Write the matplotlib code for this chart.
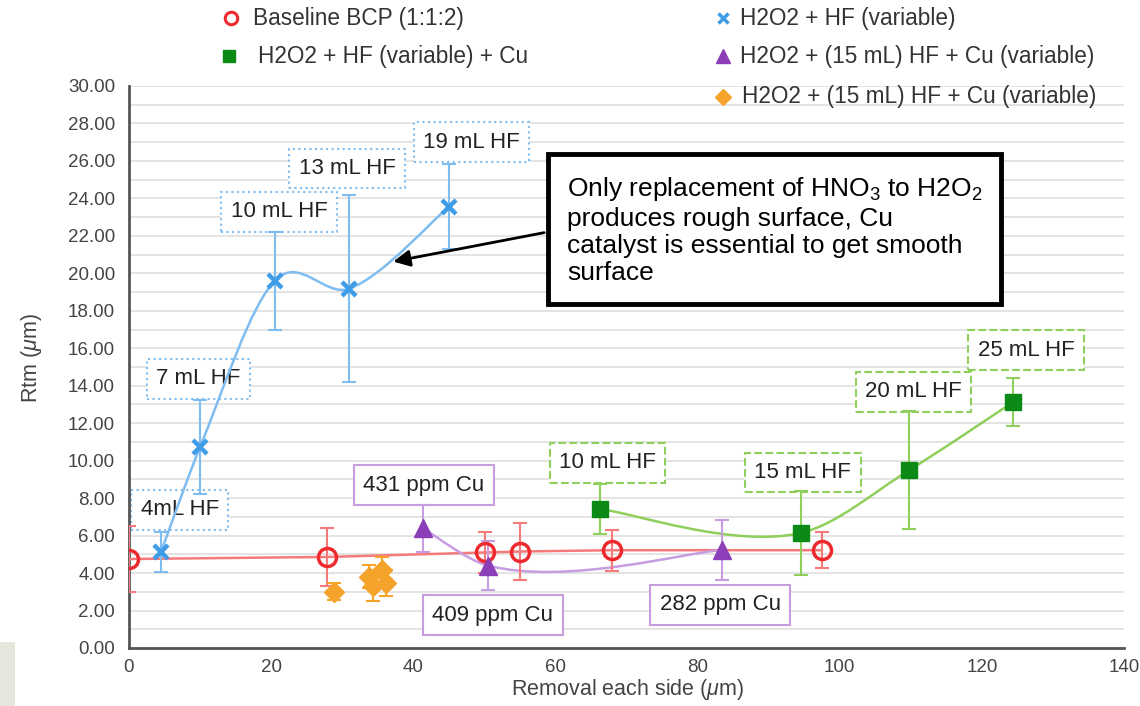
import numpy as np
import matplotlib
matplotlib.use('Agg')
import matplotlib.pyplot as plt
from matplotlib.path import Path
from matplotlib.patches import PathPatch, Rectangle
from matplotlib.lines import Line2D

plt.rcParams['font.family'] = ['Liberation Sans', 'DejaVu Sans']
plt.rcParams['mathtext.fontset'] = 'custom'
plt.rcParams['mathtext.rm'] = 'Liberation Sans'
plt.rcParams['mathtext.it'] = 'Liberation Sans:italic'

# baseline BCP (1:1:2)
bcp_x = [0, 27.9, 50.1, 55.0, 67.9, 97.5]
bcp_y = [4.75, 4.86, 5.10, 5.15, 5.22, 5.22]
bcp_err = [1.75, 1.55, 1.10, 1.50, 1.10, 0.95]

# H2O2 + HF (variable)
hf_x = [4.5, 10.0, 20.5, 31.0, 45.0]
hf_y = [5.13, 10.73, 19.60, 19.18, 23.56]
hf_err = [1.07, 2.50, 2.60, 5.00, 2.27]
hf_labels = ['4mL HF', '7 mL HF', '10 mL HF', '13 mL HF', '19 mL HF']
hf_label_pos = [(7.15, 7.37), (9.8, 14.36), (21.1, 23.28), (30.7, 25.6), (48.2, 27.0)]

# H2O2 + HF (variable) + Cu
cu_x = [66.3, 94.5, 109.8, 124.4]
cu_y = [7.42, 6.14, 9.50, 13.13]
cu_err = [1.35, 2.25, 3.15, 1.30]
cu_labels = ['10 mL HF', '15 mL HF', '20 mL HF', '25 mL HF']
cu_label_pos = [(67.3, 9.88), (94.8, 9.37), (110.4, 13.67), (126.2, 15.9)]

# H2O2 + (15 mL) HF + Cu (variable)
ppm_x = [41.4, 50.5, 83.5]
ppm_y = [6.39, 4.40, 5.23]
ppm_err = [1.25, 1.30, 1.60]
ppm_labels = ['431 ppm Cu', '409 ppm Cu', '282 ppm Cu']
ppm_label_pos = [(41.5, 8.7), (51.2, 1.76), (83.2, 2.3)]

# second H2O2 + (15 mL) HF + Cu (variable) set
or_x = [28.9, 33.8, 34.4, 35.6, 36.1]
or_y = [3.00, 3.80, 3.30, 4.15, 3.45]
or_err = [0.45, 0.62, 0.80, 0.72, 0.70]

RED, RED_L = '#ee2a2e', '#f77a7a'
BLUE, BLUE_L = '#3f9de8', '#7fbcef'
GREEN, GREEN_L = '#0c8a16', '#8fcf5c'
PURPLE, PURPLE_L = '#8c3db8', '#c79ce0'
ORANGE = '#f5a32a'


def smooth_path(xs, ys):
    # smoothed line as cubic bezier segments through the points
    x = np.asarray(xs, float)
    y = np.asarray(ys, float)
    n = len(x)
    h = np.diff(x)
    s = np.diff(y) / h
    m = np.zeros(n)
    for i in range(1, n - 1):
        cr = (y[i + 1] - y[i - 1]) / (x[i + 1] - x[i - 1])
        bessel = (h[i] * s[i - 1] + h[i - 1] * s[i]) / (h[i - 1] + h[i])
        m[i] = 0.5 * (cr + bessel)
    verts = [(x[0], y[0])]
    codes = [Path.MOVETO]
    for i in range(n - 1):
        if i == 0:
            c1 = (x[0] + h[0] / 6, y[0] + (y[1] - y[0]) / 6)
        else:
            c1 = (x[i] + h[i] / 3, y[i] + m[i] * h[i] / 3)
        if i == n - 2:
            c2 = (x[-1] - h[-1] / 6, y[-1] - (y[-1] - y[-2]) / 6)
        else:
            c2 = (x[i + 1] - h[i] / 3, y[i + 1] - m[i + 1] * h[i] / 3)
        verts += [c1, c2, (x[i + 1], y[i + 1])]
        codes += [Path.CURVE4] * 3
    return Path(verts, codes)


W, H = 1140, 706
fig = plt.figure(figsize=(W / 100, H / 100), dpi=100)
fig.patch.set_facecolor('white')
ax = fig.add_axes([129 / W, 58 / H, (1124 - 129) / W, (648 - 86) / H])

def fx(px):
    return px / W

def fy(py):
    return 1 - py / H

ax.set_xlim(0, 140)
ax.set_ylim(0, 30)
ax.set_xticks(np.arange(0, 141, 20))
ax.set_yticks(np.arange(0, 31, 2))
ax.set_yticks(np.arange(0, 31, 1), minor=True)
ax.yaxis.set_major_formatter(matplotlib.ticker.FormatStrFormatter('%.2f'))
ax.tick_params(axis='both', which='both', length=0, labelsize=13.5, labelcolor='#444444')
ax.tick_params(axis='x', pad=8)
ax.tick_params(axis='y', pad=10)
ax.grid(axis='y', which='both', color='#e4e4e4', lw=1.4, zorder=0)
for s in ['top', 'right']:
    ax.spines[s].set_visible(False)
for s in ['left', 'bottom']:
    ax.spines[s].set_color('#555555')
    ax.spines[s].set_linewidth(2)
ax.set_axisbelow(True)

# series lines
ax.plot(bcp_x, bcp_y, color=RED_L, lw=1.8, zorder=3)
ax.add_patch(PathPatch(smooth_path(hf_x, hf_y), fill=False, ec=BLUE_L, lw=1.8, zorder=3))
ax.add_patch(PathPatch(smooth_path(cu_x, cu_y), fill=False, ec=GREEN_L, lw=1.8, zorder=3))
ax.add_patch(PathPatch(smooth_path(ppm_x, ppm_y), fill=False, ec=PURPLE_L, lw=1.8, zorder=3))

# error bars
ebk = dict(fmt='none', elinewidth=1.5, capsize=5, capthick=1.5, zorder=4)
ax.errorbar(bcp_x, bcp_y, yerr=bcp_err, ecolor=RED_L, **ebk)
ax.errorbar(hf_x, hf_y, yerr=hf_err, ecolor=BLUE_L, **ebk)
ax.errorbar(cu_x, cu_y, yerr=cu_err, ecolor=GREEN_L, **ebk)
ax.errorbar(ppm_x, ppm_y, yerr=ppm_err, ecolor=PURPLE_L, **ebk)
ax.errorbar(or_x, or_y, yerr=or_err, ecolor=ORANGE, **ebk)

# markers
ax.plot(bcp_x, bcp_y, 'o', ms=13, mfc='none', mec=RED, mew=2.5, zorder=5)
ax.plot(hf_x, hf_y, 'x', ms=10, mec=BLUE, mew=3.2, zorder=5)
ax.plot(cu_x, cu_y, 's', ms=12, mfc=GREEN, mec=GREEN, zorder=5)
ax.plot(ppm_x, ppm_y, '^', ms=13, mfc=PURPLE, mec=PURPLE, zorder=5)
ax.plot(or_x, or_y, 'D', ms=10, mfc=ORANGE, mec=ORANGE, zorder=5)

# data labels
def boxed(labels, pos, ec, ls):
    for t, (x, y) in zip(labels, pos):
        ax.text(x, y, t, ha='center', va='center', fontsize=16, color='#222222', zorder=2.5,
                bbox=dict(boxstyle='square,pad=0.42', fc='white', ec=ec, lw=1.5, ls=ls))

boxed(hf_labels, hf_label_pos, BLUE_L, ':')
boxed(cu_labels, cu_label_pos, GREEN_L, '--')
boxed(ppm_labels, ppm_label_pos, PURPLE_L, '-')

# callout
ax.text(61.6, 22.3,
        'Only replacement of HNO$_3$ to H2O$_2$\nproduces rough surface, Cu\n'
        'catalyst is essential to get smooth\nsurface',
        ha='left', va='center', fontsize=19, color='black', linespacing=1.17, zorder=6,
        bbox=dict(boxstyle='square,pad=0.72', fc='white', ec='black', lw=3.5))
ax.annotate('', xy=(36.8, 20.6), xytext=(58.8, 22.2),
            arrowprops=dict(arrowstyle='-|>', color='black', lw=2, mutation_scale=25), zorder=6)

fig.text(fx(32), fy(358), 'Rtm ($\\mathit{\\mu}$m)', rotation=90, ha='center', va='center',
         fontsize=15.5, color='#444444')
fig.text(fx(628), fy(690), 'Removal each side ($\\mathit{\\mu}$m)', ha='center', va='center',
         fontsize=15.5, color='#444444')

# legend
legend_items = [
    ('o', dict(mfc='none', mec=RED, mew=2.2, ms=9), 231, 18, 253, 'Baseline BCP (1:1:2)'),
    ('x', dict(mec=BLUE, mew=2.5, ms=7), 723, 18, 740, 'H2O2 + HF (variable)'),
    ('s', dict(mfc=GREEN, mec=GREEN, ms=9), 229, 56, 258, 'H2O2 + HF (variable) + Cu'),
    ('^', dict(mfc=PURPLE, mec=PURPLE, ms=10), 723, 56, 740, 'H2O2 + (15 mL) HF + Cu (variable)'),
    ('D', dict(mfc=ORANGE, mec=ORANGE, ms=8), 723, 97, 742, 'H2O2 + (15 mL) HF + Cu (variable)'),
]
for m, kw, mx, my, tx, label in legend_items:
    fig.add_artist(Line2D([fx(mx)], [fy(my)], marker=m, ls='none', transform=fig.transFigure, **kw))
    fig.text(fx(tx), fy(my), label, ha='left', va='center', fontsize=16.3, color='#333333')

fig.add_artist(Rectangle((0, 0), fx(15), fy(642), transform=fig.transFigure,
                         fc='#e6e6dc', ec='none'))

fig.savefig('out.png', dpi=100)
